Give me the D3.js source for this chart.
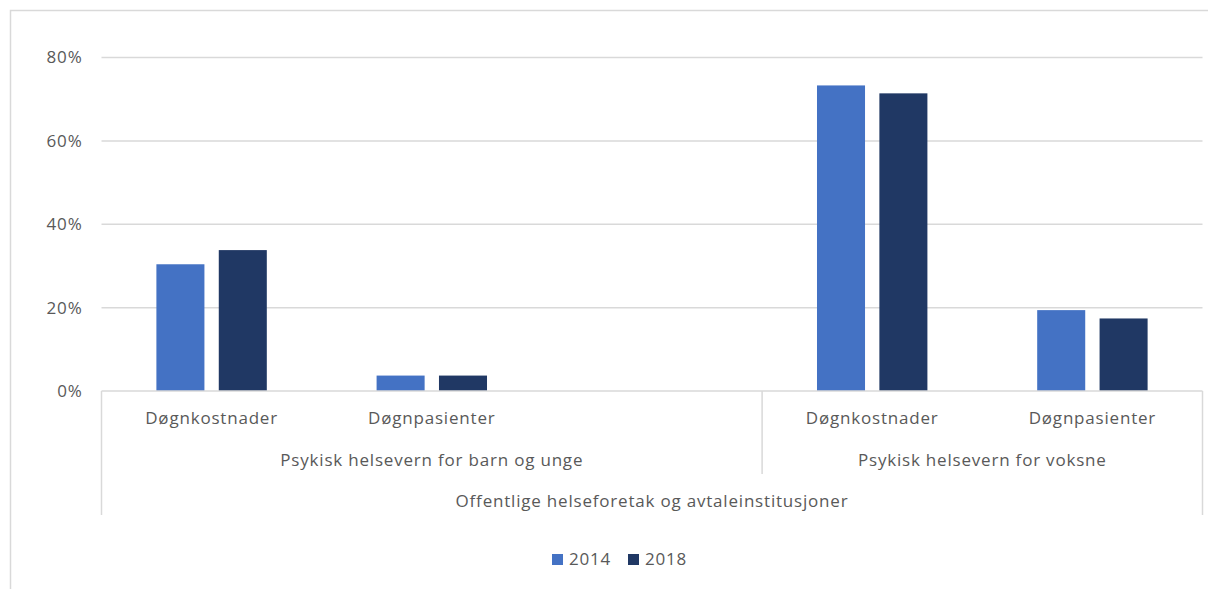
<!DOCTYPE html>
<html>
<head>
<meta charset="utf-8">
<script src="https://cdn.jsdelivr.net/npm/d3@7"></script>
<style>
  html, body { margin: 0; padding: 0; background: #fff; }
  svg { display: block; }
  text { font-family: "Open Sans", sans-serif; fill: #595959; letter-spacing: 0.8px; }
</style>
</head>
<body>
<svg id="chart" width="1208" height="589"></svg>
<script>
// Leaf categories (one empty slot keeps the spacing of the first group)
const categories = ["Døgnkostnader", "Døgnpasienter", "", "Døgnkostnader", "Døgnpasienter"];
// Second level: sector groups with the first and last slot each spans
const groupLabels = ["Psykisk helsevern for barn og unge", "Psykisk helsevern for voksne"];
const groupStart = [0, 3];
const groupEnd = [2, 4];
// Third level label spanning everything
const topLabel = "Offentlige helseforetak og avtaleinstitusjoner";

const seriesNames = ["2014", "2018"];
const values2014 = [0.304, 0.037, null, 0.733, 0.194];
const values2018 = [0.338, 0.037, null, 0.714, 0.174];
const yTicks = [0, 0.2, 0.4, 0.6, 0.8];

const colors = ["#4472C4", "#203864"];
const grid = "#d9d9d9";
const fontSize = 17;

const svg = d3.select("#chart");

// chart frame (top and left edges visible)
svg.append("path")
  .attr("d", "M10.5,589 V10.5 H1208")
  .attr("fill", "none").attr("stroke", grid).attr("stroke-width", 1.5);

const plotLeft = 101.5, plotRight = 1202.5, plotTop = 57.5, plotBottom = 391;

const x = d3.scaleBand().domain(d3.range(categories.length)).range([plotLeft, plotRight]).padding(0);
const x1 = d3.scaleBand().domain(seriesNames).range([0, x.bandwidth()])
  .paddingInner(0.23).paddingOuter(0.88);
const y = d3.scaleLinear().domain([0, 0.8]).range([plotBottom, plotTop]);

// gridlines
svg.append("g").selectAll("line").data(yTicks.filter(d => d > 0)).join("line")
  .attr("x1", plotLeft).attr("x2", plotRight)
  .attr("y1", d => y(d)).attr("y2", d => y(d))
  .attr("stroke", grid).attr("stroke-width", 1.5);

// y axis labels
const yAxis = d3.axisLeft(y).tickValues(yTicks).tickFormat(d3.format(".0%")).tickSize(0).tickPadding(19);
const yg = svg.append("g").attr("transform", `translate(${plotLeft},0)`).call(yAxis);
yg.select(".domain").remove();
yg.selectAll("text").attr("font-size", fontSize).style("font-family", "'Open Sans', sans-serif").attr("fill", "#595959");

// bars
const series = [values2014, values2018];
seriesNames.forEach((name, si) => {
  svg.append("g").selectAll("rect")
    .data(series[si].map((v, i) => ({ v, i })).filter(d => d.v != null))
    .join("rect")
    .attr("x", d => x(d.i) + x1(name))
    .attr("width", x1.bandwidth())
    .attr("y", d => y(d.v))
    .attr("height", d => y(0) - y(d.v))
    .attr("fill", colors[si]);
});

// category axis with group separators
const ax = svg.append("g").attr("stroke", grid).attr("stroke-width", 1.5).attr("fill", "none");
ax.append("line").attr("x1", plotLeft).attr("x2", plotRight).attr("y1", plotBottom).attr("y2", plotBottom);
ax.append("line").attr("x1", plotLeft).attr("x2", plotLeft).attr("y1", plotBottom).attr("y2", 515);
ax.append("line").attr("x1", plotRight).attr("x2", plotRight).attr("y1", plotBottom).attr("y2", 515);
groupEnd.slice(0, -1).forEach(e => {
  const xx = x(e) + x.bandwidth();
  ax.append("line").attr("x1", xx).attr("x2", xx).attr("y1", plotBottom).attr("y2", 474);
});

svg.append("g").selectAll("text").data(categories.map((c, i) => ({ c, i })).filter(d => d.c)).join("text")
  .attr("x", d => x(d.i) + x.bandwidth() / 2)
  .attr("y", 418).attr("dy", "0.35em").attr("text-anchor", "middle").attr("font-size", fontSize)
  .text(d => d.c);

svg.append("g").selectAll("text").data(groupLabels).join("text")
  .attr("x", (d, i) => (x(groupStart[i]) + x(groupEnd[i]) + x.bandwidth()) / 2)
  .attr("y", 460.5).attr("dy", "0.35em").attr("text-anchor", "middle").attr("font-size", fontSize)
  .text(d => d);

svg.append("text").attr("x", (plotLeft + plotRight) / 2).attr("y", 501.5).attr("dy", "0.35em")
  .attr("text-anchor", "middle").attr("font-size", fontSize).text(topLabel);

// legend
const legendX = [552, 628];
const lg = svg.append("g");
seriesNames.forEach((name, i) => {
  lg.append("rect").attr("x", legendX[i]).attr("y", 554).attr("width", 11).attr("height", 11).attr("fill", colors[i]);
  lg.append("text").attr("x", legendX[i] + 17).attr("y", 559.5).attr("dy", "0.35em").attr("font-size", fontSize).text(name);
});
</script>
</body>
</html>
